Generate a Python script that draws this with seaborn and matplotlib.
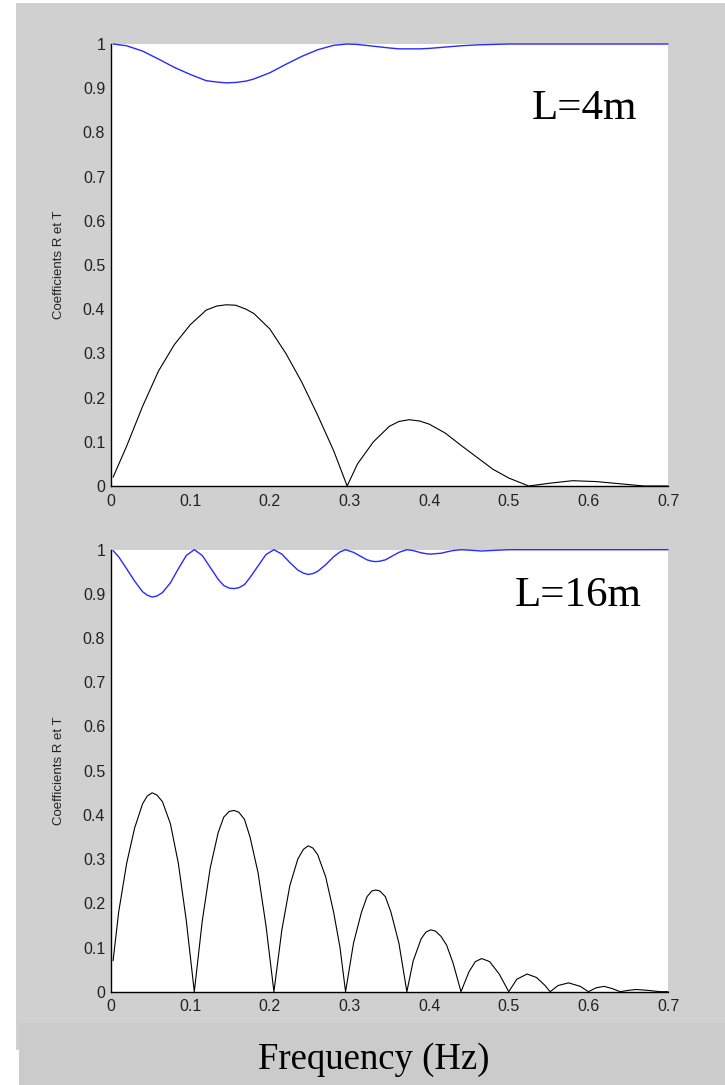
import numpy as np
import matplotlib
matplotlib.use("Agg")
import matplotlib.pyplot as plt
from matplotlib.patches import Rectangle
from matplotlib.ticker import FixedLocator, FixedFormatter
import seaborn as sns

# L = 4m
freq4 = [0.003, 0.02, 0.04, 0.06, 0.08, 0.10, 0.12, 0.133, 0.145, 0.157, 0.17, 0.18,
         0.20, 0.22, 0.24, 0.26, 0.28, 0.297, 0.31, 0.33, 0.35, 0.362, 0.375, 0.388,
         0.40, 0.42, 0.44, 0.46, 0.48, 0.50, 0.525, 0.55, 0.58, 0.61, 0.64, 0.67, 0.70]
R4 = [0.02, 0.09, 0.18, 0.26, 0.32, 0.365, 0.398, 0.407, 0.41, 0.409, 0.4, 0.39,
      0.355, 0.30, 0.235, 0.16, 0.08, 0.0, 0.05, 0.10, 0.135, 0.146, 0.15, 0.147,
      0.14, 0.12, 0.092, 0.065, 0.038, 0.018, 0.0, 0.006, 0.012, 0.01, 0.005, 0.0, 0.0]
T4 = [1.0, 0.996, 0.984, 0.966, 0.947, 0.931, 0.917, 0.914, 0.912, 0.913, 0.916, 0.921,
      0.935, 0.954, 0.972, 0.987, 0.997, 1.0, 0.999, 0.995, 0.991, 0.989, 0.989, 0.989,
      0.99, 0.993, 0.996, 0.998, 0.999, 1.0, 1.0, 1.0, 1.0, 1.0, 1.0, 1.0, 1.0]

# L = 16m
freq16 = [0.003, 0.01, 0.02, 0.03, 0.04, 0.046, 0.052, 0.058, 0.065, 0.075, 0.085, 0.095, 0.105,
          0.115, 0.125, 0.135, 0.142, 0.149, 0.155, 0.161, 0.168, 0.175, 0.185, 0.195, 0.205,
          0.215, 0.225, 0.235, 0.242, 0.248, 0.254, 0.26, 0.27, 0.28, 0.288, 0.295,
          0.305, 0.315, 0.322, 0.328, 0.333, 0.338, 0.345, 0.352, 0.362, 0.372,
          0.38, 0.39, 0.396, 0.402, 0.408, 0.415, 0.422, 0.43, 0.44,
          0.45, 0.458, 0.466, 0.476, 0.488, 0.50,
          0.51, 0.523, 0.535, 0.545, 0.552,
          0.562, 0.575, 0.59, 0.60,
          0.61, 0.62, 0.63, 0.64,
          0.65, 0.66, 0.675, 0.69, 0.70]
R16 = [0.07, 0.18, 0.29, 0.37, 0.425, 0.443, 0.45, 0.445, 0.43, 0.38, 0.29, 0.16, 0.0,
       0.16, 0.28, 0.36, 0.395, 0.408, 0.41, 0.406, 0.39, 0.35, 0.27, 0.15, 0.0,
       0.14, 0.24, 0.30, 0.322, 0.33, 0.325, 0.31, 0.26, 0.18, 0.10, 0.0,
       0.11, 0.18, 0.215, 0.228, 0.23, 0.228, 0.215, 0.18, 0.11, 0.0,
       0.07, 0.12, 0.135, 0.14, 0.137, 0.125, 0.105, 0.065, 0.0,
       0.045, 0.068, 0.075, 0.068, 0.04, 0.0,
       0.028, 0.04, 0.032, 0.015, 0.0,
       0.014, 0.02, 0.012, 0.0,
       0.009, 0.012, 0.007, 0.0,
       0.003, 0.005, 0.003, 0.0, 0.0]
T16 = [0.998, 0.984, 0.957, 0.929, 0.905, 0.897, 0.893, 0.895, 0.903, 0.925, 0.957, 0.987, 1.0,
       0.987, 0.96, 0.933, 0.919, 0.913, 0.912, 0.914, 0.921, 0.937, 0.963, 0.989, 1.0,
       0.99, 0.971, 0.954, 0.947, 0.944, 0.946, 0.951, 0.966, 0.984, 0.995, 1.0,
       0.994, 0.984, 0.977, 0.974, 0.973, 0.974, 0.977, 0.984, 0.994, 1.0,
       0.998, 0.993, 0.991, 0.99, 0.991, 0.992, 0.995, 0.998, 1.0,
       0.999, 0.998, 0.997, 0.998, 0.999, 1.0,
       1.0, 1.0, 1.0, 1.0, 1.0,
       1.0, 1.0, 1.0, 1.0,
       1.0, 1.0, 1.0, 1.0,
       1.0, 1.0, 1.0, 1.0, 1.0]

xticks = [0, 0.1, 0.2, 0.3, 0.4, 0.5, 0.6, 0.7]
xticklabels = ["0", "0.1", "0.2", "0.3", "0.4", "0.5", "0.6", "0.7"]
yticks = [0, 0.1, 0.2, 0.3, 0.4, 0.5, 0.6, 0.7, 0.8, 0.9, 1]
yticklabels = ["0", "0.1", "0.2", "0.3", "0.4", "0.5", "0.6", "0.7", "0.8", "0.9", "1"]

sns.set_style("white")
plt.rcParams["font.family"] = ["Liberation Sans", "DejaVu Sans"]

W, H = 725, 1085
fig = plt.figure(figsize=(W / 100, H / 100), dpi=100)
fig.patch.set_facecolor("white")

gray = "#d0d0d0"
band = "#cbcbcb"
fig.add_artist(Rectangle((16 / W, 1 - 1050 / H), 1 - 16 / W, (1050 - 3) / H,
                         transform=fig.transFigure, facecolor=gray, edgecolor="none", zorder=-5))
fig.add_artist(Rectangle((19 / W, 0), 1 - 19 / W, 1 - 1023 / H,
                         transform=fig.transFigure, facecolor=band, edgecolor="none", zorder=5))

ax_w = (668 - 110.7) / W
ax_h = 442 / H
ax1 = fig.add_axes([110.7 / W, 1 - 486 / H, ax_w, ax_h])
ax2 = fig.add_axes([110.7 / W, 1 - 991.7 / H, ax_w, ax_h])

for ax, f, R, T in [(ax1, freq4, R4, T4), (ax2, freq16, R16, T16)]:
    sns.lineplot(x=f, y=T, ax=ax, color="#2a2aff", linewidth=1.0, sort=False,
                 estimator=None, clip_on=False)
    sns.lineplot(x=f, y=R, ax=ax, color="black", linewidth=0.8, sort=False,
                 estimator=None, clip_on=False)
    ax.set_facecolor("white")
    ax.set_xlim(0, 0.7)
    ax.set_ylim(0, 1)
    ax.xaxis.set_major_locator(FixedLocator(xticks))
    ax.xaxis.set_major_formatter(FixedFormatter(xticklabels))
    ax.yaxis.set_major_locator(FixedLocator(yticks))
    ax.yaxis.set_major_formatter(FixedFormatter(yticklabels))
    ax.tick_params(axis="both", direction="in", length=4.5, width=0.8,
                   labelsize=11.5, labelcolor="#222222", color="black")
    ax.tick_params(axis="x", pad=5.5)
    ax.tick_params(axis="y", pad=4)
    for side in ["top", "right"]:
        ax.spines[side].set_visible(False)
    for side in ["left", "bottom"]:
        ax.spines[side].set_color("black")
        ax.spines[side].set_linewidth(1.0)
    ax.set_ylabel("Coefficients R et T", fontsize=9.5, color="#222222")
    ax.yaxis.set_label_coords(-0.082, 0.5)

# original x label, mostly hidden under the band
ax2.set_xlabel("Frequency (Hz)", fontsize=11.5, color="#222222", labelpad=6)

serif = ["Liberation Serif", "DejaVu Serif"]
fig.text(532 / W, 1 - 119 / H, "L=4m", family=serif, fontsize=31, color="black",
         ha="left", va="baseline", zorder=10)
fig.text(515 / W, 1 - 606 / H, "L=16m", family=serif, fontsize=31, color="black",
         ha="left", va="baseline", zorder=10)
fig.text(258 / W, 1 - 1069 / H, "Frequency (Hz)", family=serif, fontsize=26.5,
         color="black", ha="left", va="baseline", zorder=10)

fig.savefig("out.png", dpi=100, facecolor=fig.get_facecolor())
